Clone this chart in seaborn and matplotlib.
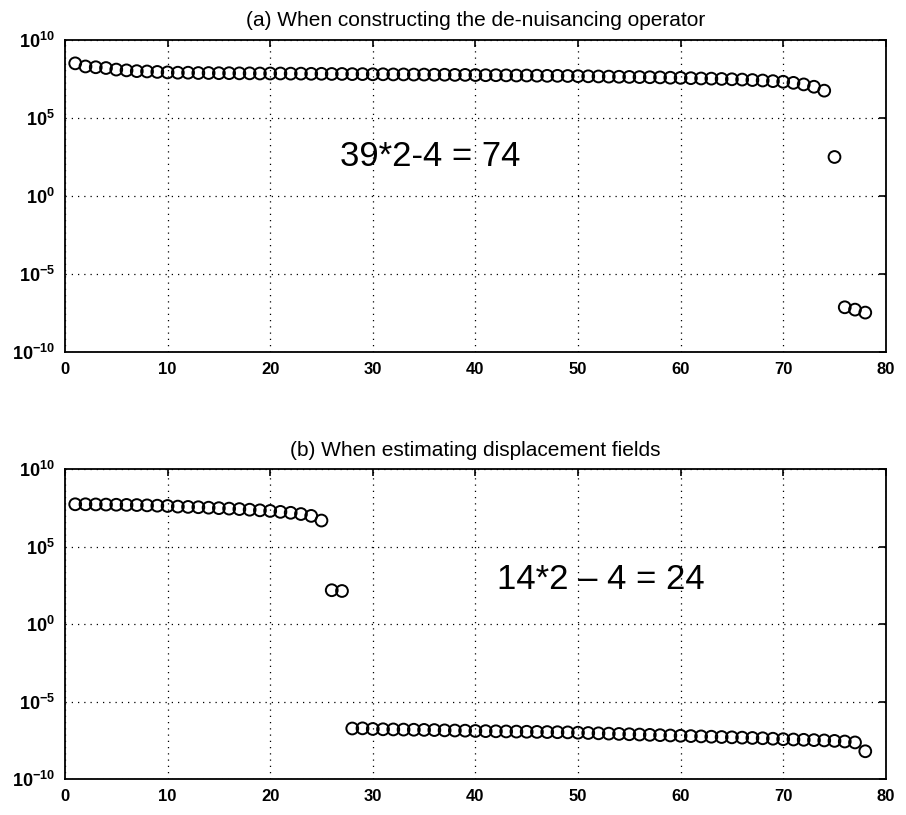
import numpy as np
import matplotlib
matplotlib.use('Agg')
import matplotlib.pyplot as plt
import seaborn as sns

# singular values as log10 values
idx = list(range(1, 79))

log_a = [8.5, 8.3, 8.25, 8.2, 8.1, 8.05, 8.0, 7.98, 7.95, 7.92,
         7.9, 7.9, 7.88, 7.88, 7.87, 7.87, 7.86, 7.86, 7.85, 7.85,
         7.85, 7.84, 7.84, 7.83, 7.83, 7.82, 7.82, 7.81, 7.81, 7.8,
         7.8, 7.79, 7.79, 7.78, 7.78, 7.77, 7.77, 7.76, 7.76, 7.75,
         7.74, 7.74, 7.73, 7.72, 7.72, 7.71, 7.7, 7.7, 7.69, 7.68,
         7.67, 7.66, 7.65, 7.64, 7.63, 7.62, 7.61, 7.6, 7.58, 7.57,
         7.55, 7.53, 7.52, 7.5, 7.48, 7.46, 7.43, 7.4, 7.36, 7.32,
         7.25, 7.15, 7.0, 6.75,
         2.5,
         -7.13, -7.28, -7.47]

log_b = [7.75, 7.75, 7.74, 7.73, 7.72, 7.71, 7.7, 7.68, 7.66, 7.64,
         7.6, 7.58, 7.56, 7.53, 7.5, 7.47, 7.44, 7.4, 7.36, 7.32,
         7.26, 7.2, 7.12, 7.0, 6.7,
         2.2, 2.15,
         -6.73, -6.72, -6.76,
         -6.78, -6.79, -6.8, -6.81, -6.82, -6.83, -6.85, -6.86, -6.87, -6.89,
         -6.9, -6.91, -6.92, -6.93, -6.94, -6.95, -6.96, -6.97, -6.98, -7.0,
         -7.02, -7.04, -7.06, -7.08, -7.1, -7.12, -7.14, -7.16, -7.18, -7.2,
         -7.22, -7.24, -7.26, -7.28, -7.3, -7.32, -7.34, -7.36, -7.39, -7.42,
         -7.44, -7.46, -7.48, -7.5, -7.53, -7.57, -7.63, -8.2]

titles = ['(a) When constructing the de-nuisancing operator',
          '(b) When estimating displacement fields']
notes = ['39*2-4 = 74', '14*2 \u2013 4 = 24']
note_pos = [(26.8, 10 ** 2.5), (42.1, 10 ** 2.9)]

x_ticks = [0, 10, 20, 30, 40, 50, 60, 70, 80]
y_exps = [-10, -5, 0, 5, 10]

sns.set_style('white')
plt.rcParams['font.family'] = ['Liberation Sans', 'DejaVu Sans']
plt.rcParams['text.color'] = 'black'
plt.rcParams['mathtext.fontset'] = 'custom'
plt.rcParams['mathtext.bf'] = 'Liberation Sans:bold'
plt.rcParams['mathtext.rm'] = 'Liberation Sans'

fig = plt.figure(figsize=(9.06, 8.15), dpi=100)
ax_a = fig.add_axes([0.0717, 0.568, 0.906, 0.383])
ax_b = fig.add_axes([0.0717, 0.044, 0.906, 0.380])

for ax, logs, title, note, pos in zip([ax_a, ax_b], [log_a, log_b], titles, notes, note_pos):
    vals = [10 ** v for v in logs]
    sns.scatterplot(x=idx, y=vals, ax=ax, marker='o', s=72,
                    facecolors='none', edgecolor='black', linewidth=1.4)
    ax.set_yscale('log')
    ax.set_xlim(0, 80)
    ax.set_ylim(1e-10, 1e10)
    ax.set_xticks(x_ticks)
    ax.set_xticklabels([str(t) for t in x_ticks], fontsize=12, fontweight='bold')
    ax.set_yticks([10.0 ** e for e in y_exps])
    ax.set_yticklabels([r'$\mathbf{10^{%d}}$' % e for e in y_exps], fontsize=13)
    ax.minorticks_off()
    ax.grid(True, which='major', color='black', linestyle=(0, (1, 4)), linewidth=0.9)
    ax.tick_params(direction='in', length=5, width=1.2, top=True, right=True,
                   colors='black', labelcolor='black', pad=7)
    for sp in ax.spines.values():
        sp.set_color('black')
        sp.set_linewidth(1.3)
    ax.set_title(title, fontsize=15, pad=10, color='black')
    ax.text(pos[0], pos[1], note, fontsize=25, va='center', ha='left', color='black')

fig.savefig('out.png', dpi=100, facecolor='white')
